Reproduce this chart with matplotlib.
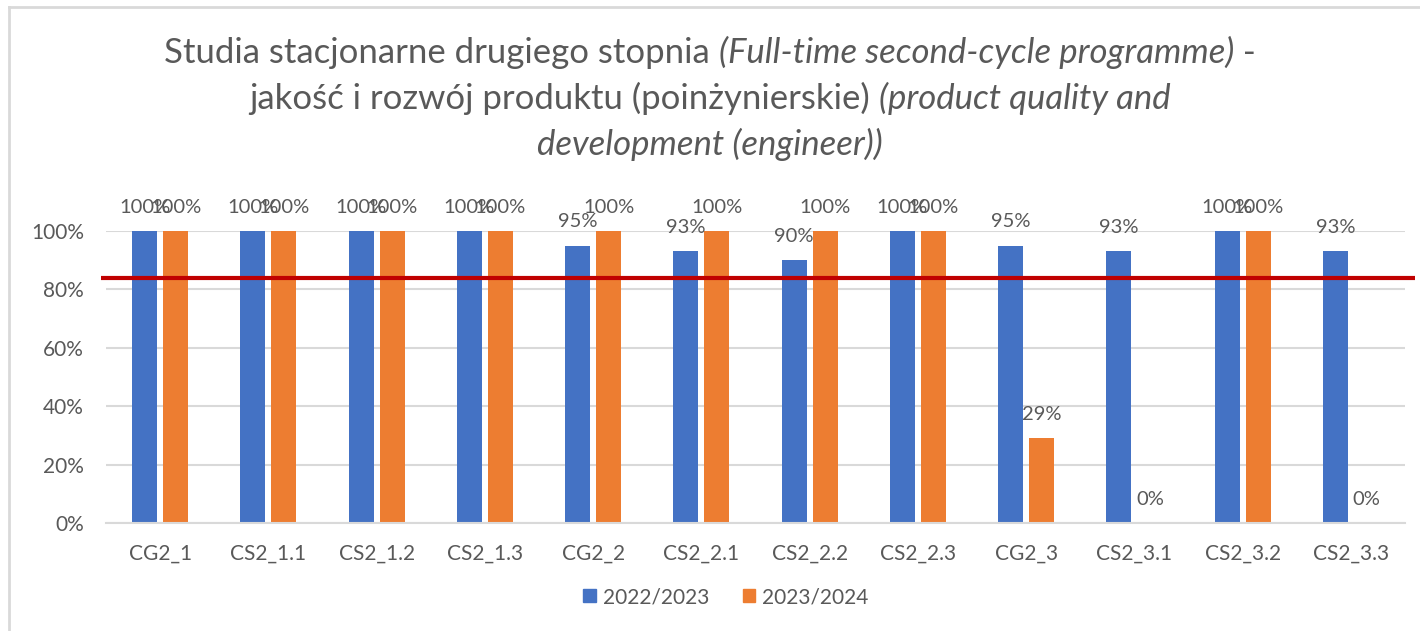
import numpy as np
import matplotlib
matplotlib.use('Agg')
import matplotlib.pyplot as plt
from matplotlib.patches import Patch
from matplotlib.lines import Line2D
from matplotlib.ticker import FuncFormatter

categories = ['CG2_1', 'CS2_1.1', 'CS2_1.2', 'CS2_1.3', 'CG2_2', 'CS2_2.1',
              'CS2_2.2', 'CS2_2.3', 'CG2_3', 'CS2_3.1', 'CS2_3.2', 'CS2_3.3']
series_names = ['2022/2023', '2023/2024']
values_2022_2023 = [100, 100, 100, 100, 95, 93, 90, 100, 95, 93, 100, 93]
values_2023_2024 = [100, 100, 100, 100, 100, 100, 100, 100, 29, 0, 100, 0]
threshold = 84
yticks = [0, 20, 40, 60, 80, 100]

title_lines = [
    [("Studia stacjonarne drugiego stopnia ", 'normal'),
     ("(Full-time second-cycle programme)", 'italic'),
     (" -", 'normal')],
    [("jakość i rozwój produktu (poinżynierskie) ", 'normal'),
     ("(product quality and", 'italic')],
    [("development (engineer))", 'italic')],
]

plt.rcParams['font.family'] = ['Lato', 'DejaVu Sans']
TXT = '#595959'
GRID = '#d9d9d9'
BLUE = '#4472C4'
ORANGE = '#ED7D31'
RED = '#C00000'

W, H = 1420, 631
fig = plt.figure(figsize=(W / 100, H / 100), dpi=100)
ax = fig.add_axes([106 / W, 108 / H, 1299 / W, 292 / H])

x = np.arange(len(categories))
bw = 0.23
off = 0.143
bars1 = ax.bar(x - off, values_2022_2023, bw, color=BLUE, zorder=2)
bars2 = ax.bar(x + off, values_2023_2024, bw, color=ORANGE, zorder=2)

ax.set_xlim(-0.5, len(categories) - 0.5)
ax.set_ylim(0, 100)
ax.set_yticks(yticks)
ax.yaxis.set_major_formatter(FuncFormatter(lambda v, p: f"{int(v)}%"))
ax.set_xticks(x)
ax.set_xticklabels(categories)
ax.tick_params(axis='both', length=0, labelsize=15, labelcolor=TXT)
ax.tick_params(axis='y', pad=16)
ax.tick_params(axis='x', pad=15)
ax.yaxis.grid(True, color=GRID, lw=1.5, zorder=0)
ax.set_axisbelow(True)
for s in ['top', 'right', 'left']:
    ax.spines[s].set_visible(False)
ax.spines['bottom'].set_color(GRID)
ax.spines['bottom'].set_linewidth(1.5)

for bars, vals in [(bars1, values_2022_2023), (bars2, values_2023_2024)]:
    for b, v in zip(bars, vals):
        ax.annotate(f"{v}%", (b.get_x() + b.get_width() / 2, v),
                    xytext=(0, 11), textcoords='offset points',
                    ha='center', va='bottom', fontsize=14.5, color=TXT,
                    annotation_clip=False, zorder=4)

ax.plot([-0.546, 11.59], [threshold, threshold], color=RED, lw=3,
        clip_on=False, zorder=3, solid_capstyle='butt')

# legend
handles = [Patch(color=BLUE, label=series_names[0]),
           Patch(color=ORANGE, label=series_names[1])]
leg = fig.legend(handles=handles, loc='center', ncol=2, frameon=False,
                 bbox_to_anchor=(726 / W, 1 - 597 / H), fontsize=15,
                 handlelength=0.6, handleheight=0.6, handletextpad=0.35,
                 columnspacing=1.6)
for t in leg.get_texts():
    t.set_color(TXT)

# title (mixed styles)
renderer = fig.canvas.get_renderer()
baselines = [63, 109, 155]
tsize = 25
for line, yb in zip(title_lines, baselines):
    texts = []
    for s, st in line:
        t = fig.text(0, 1 - yb / H, s, fontsize=tsize, style=st, color=TXT,
                     ha='left', va='baseline')
        texts.append(t)
    widths = [t.get_window_extent(renderer).width for t in texts]
    total = sum(widths)
    xs = W / 2 - total / 2
    for t, wdt in zip(texts, widths):
        t.set_x(xs / W)
        xs += wdt

# chart frame lines
fig.add_artist(Line2D([9 / W, 1], [1 - 7 / H, 1 - 7 / H], color=GRID, lw=2))
fig.add_artist(Line2D([9 / W, 9 / W], [0, 1 - 7 / H], color=GRID, lw=2))

fig.savefig('out.png', dpi=100)
